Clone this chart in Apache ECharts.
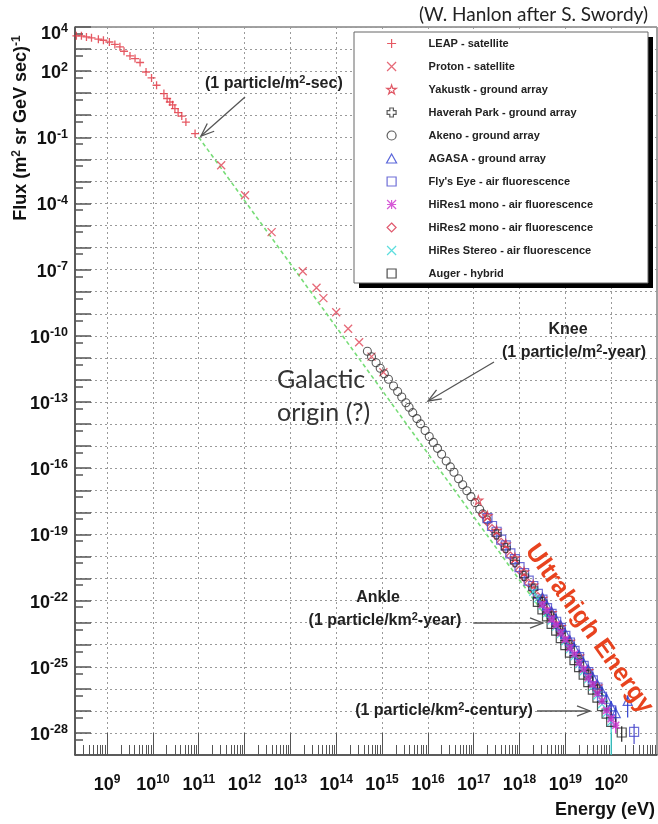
<!DOCTYPE html>
<html><head><meta charset="utf-8">
<script src="https://cdn.jsdelivr.net/npm/echarts@6/dist/echarts.min.js"></script>
<style>html,body{margin:0;padding:0;background:#fff}#main{width:658px;height:824px}</style>
</head><body><div id="main"></div>
<script>
// ---- Data (log10 of energy in eV, log10 of flux in (m^2 sr GeV sec)^-1) ----
const leapLogE = [8.33, 8.44, 8.55, 8.66, 8.81, 8.92, 9.05, 9.17, 9.28, 9.37, 9.50, 9.61, 9.72, 9.85, 9.97, 10.08, 10.24, 10.31, 10.37, 10.43, 10.48, 10.55, 10.63, 10.72, 10.92];
const leapLogFlux = [3.60, 3.60, 3.55, 3.51, 3.45, 3.40, 3.32, 3.21, 3.10, 2.90, 2.69, 2.57, 2.39, 1.96, 1.69, 1.36, 0.98, 0.76, 0.60, 0.47, 0.30, 0.12, -0.04, -0.31, -0.83];

const protonLogE = [11.49, 12.01, 12.59, 13.27, 13.57, 13.72, 14.00, 14.26, 14.50, 14.77, 15.03];
const protonLogFlux = [-2.27, -3.63, -5.30, -7.07, -7.82, -8.29, -8.93, -9.68, -10.29, -10.94, -11.65];

const akenoLogE = [14.68, 14.77, 14.87, 14.96, 15.05, 15.14, 15.25, 15.34, 15.43, 15.52, 15.59, 15.67, 15.76, 15.84, 15.94, 16.03, 16.12, 16.21, 16.30, 16.40, 16.49, 16.57, 16.67, 16.76, 16.85, 16.94, 17.03, 17.13, 17.20, 17.29];
const akenoLogFlux = [-10.70, -10.95, -11.22, -11.47, -11.72, -11.97, -12.27, -12.52, -12.77, -13.03, -13.24, -13.48, -13.75, -13.99, -14.29, -14.56, -14.83, -15.10, -15.37, -15.67, -15.94, -16.18, -16.48, -16.75, -17.02, -17.29, -17.56, -17.86, -18.07, -18.34];

const yakutskLogE = [17.1, 17.3, 17.5, 17.7, 17.9, 18.1, 18.3, 18.5, 18.7, 18.9, 19.1, 19.3, 19.5, 19.7];
const yakutskLogFlux = [-17.45, -18.16, -18.82, -19.44, -20.06, -20.70, -21.30, -21.90, -22.55, -23.18, -23.85, -24.52, -25.18, -25.88];

const haverahLogE = [17.5, 17.7, 17.9, 18.1, 18.3, 18.5, 18.7, 18.9, 19.1, 19.3, 19.5, 19.7];
const haverahLogFlux = [-19.00, -19.62, -20.26, -20.88, -21.46, -22.06, -22.72, -23.36, -24.02, -24.70, -25.36, -26.02];

const agasaLogE = [18.5, 18.6, 18.7, 18.8, 18.9, 19.0, 19.1, 19.2, 19.3, 19.4, 19.5, 19.6, 19.7, 19.8, 19.9, 20.0, 20.1, 20.36];
const agasaLogFlux = [-21.86, -22.22, -22.50, -22.86, -23.12, -23.50, -23.80, -24.16, -24.46, -24.84, -25.12, -25.48, -25.80, -26.12, -26.45, -26.80, -27.10, -26.55];

const flysLogE = [17.3, 17.4, 17.5, 17.6, 17.7, 17.8, 17.9, 18.0, 18.1, 18.2, 18.3, 18.4, 18.5, 18.6, 18.7, 18.8, 18.9, 19.0, 19.1, 19.2, 19.3, 19.4, 19.5, 19.6, 19.7, 19.8, 20.0, 20.5];
const flysLogFlux = [-18.26, -18.62, -18.88, -19.24, -19.50, -19.86, -20.12, -20.48, -20.76, -21.10, -21.34, -21.70, -21.96, -22.34, -22.60, -22.96, -23.24, -23.60, -23.90, -24.28, -24.56, -24.96, -25.24, -25.62, -25.94, -26.36, -26.98, -27.95];

const hires1LogE = [18.5, 18.6, 18.7, 18.8, 18.9, 19.0, 19.1, 19.2, 19.3, 19.4, 19.5, 19.6, 19.7, 19.8, 19.9, 20.0, 20.1];
const hires1LogFlux = [-22.18, -22.46, -22.84, -23.10, -23.46, -23.76, -24.14, -24.42, -24.82, -25.10, -25.50, -25.80, -26.20, -26.55, -26.98, -27.35, -27.65];

const hires2LogE = [17.2, 17.3, 17.4, 17.5, 17.6, 17.7, 17.8, 17.9, 18.0, 18.1, 18.2, 18.3, 18.4, 18.5, 18.6, 18.7, 18.8, 18.9, 19.0];
const hires2LogFlux = [-18.10, -18.44, -18.74, -19.08, -19.36, -19.70, -19.98, -20.32, -20.62, -20.96, -21.22, -21.54, -21.82, -22.16, -22.46, -22.82, -23.10, -23.46, -23.80];

const stereoLogE = [18.3, 18.4, 18.5, 18.6, 18.7, 18.8, 18.9, 19.0, 19.1, 19.2, 19.3, 19.4, 19.5, 19.6, 19.7, 19.8, 19.9, 20.0];
const stereoLogFlux = [-21.60, -21.90, -22.24, -22.56, -22.90, -23.18, -23.52, -23.84, -24.20, -24.52, -24.88, -25.20, -25.56, -25.90, -26.30, -26.70, -27.10, -27.50];

const augerLogE = [18.4, 18.5, 18.6, 18.7, 18.8, 18.9, 19.0, 19.1, 19.2, 19.3, 19.4, 19.5, 19.6, 19.7, 19.8, 19.9, 20.0, 20.23];
const augerLogFlux = [-22.06, -22.40, -22.72, -23.06, -23.36, -23.70, -24.02, -24.36, -24.70, -25.02, -25.36, -25.70, -26.04, -26.40, -26.78, -27.12, -27.50, -27.98];

// error bars: energy, low, high (log10)
const agasaErrE = [19.5, 19.6, 19.7, 19.8, 19.9, 20.0, 20.1, 20.36];
const agasaErrLow = [-25.25, -25.62, -25.95, -26.30, -26.70, -27.10, -27.50, -27.30];
const agasaErrHigh = [-25.00, -25.36, -25.66, -25.96, -26.25, -26.55, -26.80, -26.30];
const flysErrE = [19.6, 20.0, 20.5];
const flysErrLow = [-25.80, -27.3, -28.5];
const flysErrHigh = [-25.45, -26.7, -27.6];
const augerErrE = [19.9, 20.0, 20.23];
const augerErrLow = [-27.35, -27.75, -28.4];
const augerErrHigh = [-26.90, -27.25, -27.7];
const stereoErrE = [19.9, 20.0];
const stereoErrLow = [-27.4, -29.0];
const stereoErrHigh = [-26.85, -27.2];
const hires1ErrE = [19.9, 20.0, 20.1];
const hires1ErrLow = [-27.25, -27.65, -28.0];
const hires1ErrHigh = [-26.75, -27.05, -27.35];

// reference power-law guide line
const guideLogE = [11.0, 20.0];
const guideLogFlux = [-1.0, -26.8];

// axis ticks / labels
const xLabelExps = [9, 10, 11, 12, 13, 14, 15, 16, 17, 18, 19, 20];
const yLabelExps = [4, 2, -1, -4, -7, -10, -13, -16, -19, -22, -25, -28];
const yMajorExps = [4, 3, 2, 1, 0, -1, -2, -3, -4, -5, -6, -7, -8, -9, -10, -11, -12, -13, -14, -15, -16, -17, -18, -19, -20, -21, -22, -23, -24, -25, -26, -27, -28];
const seriesNames = ['LEAP - satellite', 'Proton - satellite', 'Yakustk - ground array', 'Haverah Park - ground array', 'Akeno - ground array', 'AGASA - ground array', "Fly's Eye - air fluorescence", 'HiRes1 mono - air fluorescence', 'HiRes2 mono - air fluorescence', 'HiRes Stereo - air fluorescence', 'Auger - hybrid'];

// ---- build ----
const pts = (xs, ys) => xs.map((x, i) => [x, ys[i]]);
const errs = (xs, lo, hi) => xs.map((x, i) => [x, lo[i], hi[i]]);
const xMinor = [];
for (let n = 8; n <= 20; n++) for (let k = 2; k <= 9; k++) { const v = n + Math.log10(k); if (v > 8.3 && v < 21) xMinor.push(v); }
const yMinor = yMajorExps.map(v => v - Math.log10(2));

const FONT = '"Liberation Sans", Arial, Helvetica, sans-serif';
const SYM = {
  plus: 'path://M0,5L10,5M5,0L5,10',
  cross: 'path://M0,0L10,10M10,0L0,10',
  star: 'path://M5,0L6.2,3.6L10,3.6L6.9,5.8L8.1,9.5L5,7.2L1.9,9.5L3.1,5.8L0,3.6L3.8,3.6Z',
  fatPlus: 'path://M3,0L7,0L7,3L10,3L10,7L7,7L7,10L3,10L3,7L0,7L0,3L3,3Z',
  aster: 'path://M0,0L10,10M10,0L0,10M5,0L5,10M0,5L10,5',
  tri: 'path://M5,0L10,9L0,9Z',
  square: 'path://M0,0L10,0L10,10L0,10Z',
  diamond: 'path://M5,0L10,5L5,10L0,5Z'
};
function sc(name, data, symbol, size, color, bw, z) {
  return { name, type: 'scatter', data, symbol, symbolSize: size, z: z || 2,
    itemStyle: { color: 'transparent', borderColor: color, borderWidth: bw || 1.2 },
    emphasis: { disabled: true } };
}
function errSeries(data, color) {
  return { type: 'custom', data, z: 2, silent: true,
    encode: { x: 0, y: [1, 2] },
    renderItem(params, api) {
      const a = api.coord([api.value(0), api.value(1)]);
      const b = api.coord([api.value(0), api.value(2)]);
      return { type: 'line', shape: { x1: a[0], y1: a[1], x2: b[0], y2: b[1] }, style: { stroke: color, lineWidth: 1.2 } };
    } };
}
function arrow(x1, y1, x2, y2) {
  const a = Math.atan2(y2 - y1, x2 - x1), L = 14, w = 0.38;
  return [
    { type: 'line', z: 6, shape: { x1, y1, x2, y2 }, style: { stroke: '#555', lineWidth: 1.3 } },
    { type: 'polyline', z: 6, shape: { points: [[x2 - L * Math.cos(a - w), y2 - L * Math.sin(a - w)], [x2, y2], [x2 - L * Math.cos(a + w), y2 - L * Math.sin(a + w)]] }, style: { stroke: '#555', fill: null, lineWidth: 1.3 } }
  ];
}
const supRich = (fs, pad) => ({ s: { fontSize: fs, fontWeight: 'bold', fontFamily: FONT, padding: [0, 0, pad, 0], fill: '#222' } });
function note(x, y, text, align) {
  return { type: 'text', z: 6, x, y, style: { text, font: 'bold 16px ' + FONT, fill: '#222', align: align || 'left', verticalAlign: 'middle', textAlign: align || 'left', textVerticalAlign: 'middle', rich: supRich(11, 8) } };
}

const chart = echarts.init(document.getElementById('main'), null, { renderer: 'canvas' });
const graphics = [
  { type: 'rect', z: 3, shape: { x: 359, y: 37, width: 294, height: 251 }, style: { fill: '#000' } },
  { type: 'rect', z: 3, shape: { x: 354, y: 32, width: 294, height: 251 }, style: { fill: '#fff', stroke: '#666', lineWidth: 1 } },
  { type: 'text', z: 6, x: 21, y: 128, rotation: Math.PI / 2,
    style: { text: 'Flux (m{s|2} sr GeV sec){s|-1}', font: 'bold 18px ' + FONT, fill: '#111', align: 'center', verticalAlign: 'middle', textAlign: 'center', textVerticalAlign: 'middle', rich: supRich(12, 9) } },
  { type: 'text', z: 6, x: 655, y: 810,
    style: { text: 'Energy (eV)', font: 'bold 18px ' + FONT, fill: '#111', align: 'right', verticalAlign: 'middle', textAlign: 'right', textVerticalAlign: 'middle' } },
  note(205, 84, '(1 particle/m{s|2}-sec)'),
  note(568, 330, 'Knee', 'center'),
  note(574, 353, '(1 particle/m{s|2}-year)', 'center'),
  note(378, 598, 'Ankle', 'center'),
  note(385, 621, '(1 particle/km{s|2}-year)', 'center'),
  note(444, 711, '(1 particle/km{s|2}-century)', 'center'),
  { type: 'text', z: 6, x: 277, y: 380, style: { text: 'Galactic', font: '25px Lato, "Open Sans", sans-serif', fill: '#333', align: 'left', verticalAlign: 'middle', textAlign: 'left', textVerticalAlign: 'middle' } },
  { type: 'text', z: 6, x: 277, y: 413, style: { text: 'origin (?)', font: '25px Lato, "Open Sans", sans-serif', fill: '#333', align: 'left', verticalAlign: 'middle', textAlign: 'left', textVerticalAlign: 'middle' } },
  { type: 'text', z: 6, x: 589, y: 629, rotation: -0.95, style: { text: 'Ultrahigh Energy', font: 'bold 25px ' + FONT, fill: '#e8431f', align: 'center', verticalAlign: 'middle', textAlign: 'center', textVerticalAlign: 'middle' } },
  ...arrow(494, 362, 428, 401),
  ...arrow(245, 97, 201, 136),
  ...arrow(474, 623, 543, 623),
  ...arrow(537, 711, 590, 711)
];

const labelRich = (big, small, pad, top) => ({
  b: { fontSize: big, fontWeight: 'bold', fontFamily: FONT, color: '#111', lineHeight: big + pad, padding: [top, 0, 0, 0] },
  s: { fontSize: small, fontWeight: 'bold', fontFamily: FONT, color: '#111', lineHeight: small, padding: [top, 0, big + pad - small, 0] },
  b4: { fontSize: big, fontWeight: 'bold', fontFamily: FONT, color: '#111', lineHeight: big + pad, padding: [top + 10, 0, 0, 0] },
  s4: { fontSize: small, fontWeight: 'bold', fontFamily: FONT, color: '#111', lineHeight: small, padding: [top + 10, 0, big + pad - small, 0] }
});

const option = {
  animation: false,
  backgroundColor: '#fff',
  title: { text: '(W. Hanlon after S. Swordy)', right: 10, top: 5, padding: 0,
    textStyle: { fontFamily: 'Lato, "Open Sans", sans-serif', fontSize: 19, fontWeight: 'normal', color: '#222' } },
  grid: { left: 75, top: 27, right: 1, bottom: 69, show: true, borderColor: '#444', borderWidth: 1, backgroundColor: 'transparent' },
  legend: {
    data: seriesNames, orient: 'vertical', left: 386, top: 38, padding: 0, itemGap: 12,
    itemWidth: 64, itemHeight: 9, z: 4, selectedMode: false,
    itemStyle: { borderWidth: 1.2 },
    textStyle: { fontFamily: FONT, fontWeight: 'bold', fontSize: 11, color: '#222', lineHeight: 9 }
  },
  xAxis: [
    { type: 'value', min: 8.3, max: 21, splitNumber: 13, minInterval: 1, maxInterval: 1,
      axisLine: { onZero: false, lineStyle: { color: '#444', width: 1.5 } },
      axisTick: { inside: true, length: 22, customValues: xLabelExps, lineStyle: { color: '#555', width: 1 } },
      axisLabel: { customValues: xLabelExps, margin: 19, formatter: v => '{b|10}{s|' + Math.round(v) + '}', rich: labelRich(18, 12, 5, 0) },
      splitLine: { show: true, lineStyle: { color: '#9a9a9a', type: [2, 3], width: 1 } } },
    { type: 'value', min: 8.3, max: 21, position: 'bottom', splitNumber: 13, minInterval: 1, maxInterval: 1,
      axisLine: { show: false, onZero: false }, axisLabel: { show: false }, splitLine: { show: false },
      axisTick: { inside: true, length: 10, customValues: xMinor, lineStyle: { color: '#555', width: 1 } } }
  ],
  yAxis: [
    { type: 'value', min: -29, max: 4, interval: 1,
      axisLine: { onZero: false, lineStyle: { color: '#444', width: 1.5 } },
      axisTick: { inside: true, length: 16, customValues: yMajorExps, lineStyle: { color: '#555', width: 1.5 } },
      axisLabel: { customValues: yLabelExps, margin: 7,
        formatter: v => Math.round(v) === 4 ? '{b4|10}{s4|4}' : '{b|10}{s|' + Math.round(v) + '}',
        rich: labelRich(18, 12.5, 5, 4) },
      splitLine: { show: true, lineStyle: { color: '#9a9a9a', type: [2, 3], width: 1 } } },
    { type: 'value', min: -29, max: 4, interval: 1, position: 'left',
      axisLine: { show: false, onZero: false }, axisLabel: { show: false }, splitLine: { show: false },
      axisTick: { inside: true, length: 8, customValues: yMinor, lineStyle: { color: '#555', width: 1.5 } } }
  ],
  graphic: { elements: graphics },
  series: [
    { name: 'guide', type: 'line', data: pts(guideLogE, guideLogFlux), symbol: 'none', z: 1, silent: true,
      lineStyle: { color: '#77dd77', width: 1.6, type: [4, 3] } },
    sc(seriesNames[0], pts(leapLogE, leapLogFlux), SYM.plus, 8, '#e0303c', 1.3),
    sc(seriesNames[1], pts(protonLogE, protonLogFlux), SYM.cross, 8, '#e04455', 1.3),
    sc(seriesNames[4], pts(akenoLogE, akenoLogFlux), 'circle', 8, '#333', 1.1),
    sc(seriesNames[8], pts(hires2LogE, hires2LogFlux), SYM.diamond, 8, '#d8304a', 1.2),
    sc(seriesNames[6], pts(flysLogE, flysLogFlux), SYM.square, 9, '#4a4acc', 1.2),
    sc(seriesNames[2], pts(yakutskLogE, yakutskLogFlux), SYM.star, 9, '#d83040', 1.1),
    sc(seriesNames[3], pts(haverahLogE, haverahLogFlux), SYM.fatPlus, 9, '#333', 1.1),
    sc(seriesNames[10], pts(augerLogE, augerLogFlux), SYM.square, 9, '#222', 1.2),
    sc(seriesNames[9], pts(stereoLogE, stereoLogFlux), SYM.cross, 8, '#33d6d6', 1.3),
    sc(seriesNames[5], pts(agasaLogE, agasaLogFlux), SYM.tri, 9, '#2f3fd0', 1.2),
    sc(seriesNames[7], pts(hires1LogE, hires1LogFlux), SYM.aster, 7, '#cc2fcc', 1.6),
    errSeries(errs(agasaErrE, agasaErrLow, agasaErrHigh), '#2f3fd0'),
    errSeries(errs(flysErrE, flysErrLow, flysErrHigh), '#4a4acc'),
    errSeries(errs(augerErrE, augerErrLow, augerErrHigh), '#222'),
    errSeries(errs(stereoErrE, stereoErrLow, stereoErrHigh), '#33d6d6'),
    errSeries(errs(hires1ErrE, hires1ErrLow, hires1ErrHigh), '#cc2fcc')
  ]
};
chart.setOption(option);
</script>
</body></html>
